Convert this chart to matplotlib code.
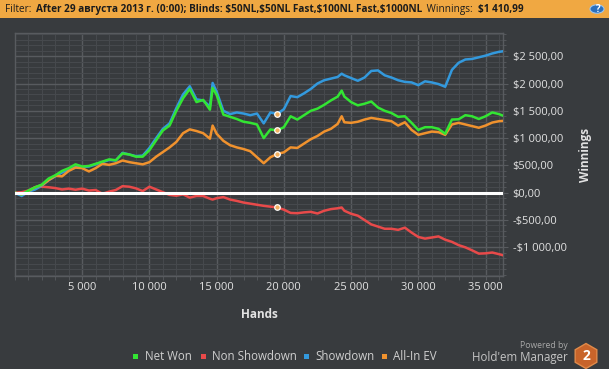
import matplotlib
matplotlib.use("Agg")
import matplotlib.pyplot as plt
from matplotlib.patches import Rectangle, RegularPolygon, Circle
from matplotlib.ticker import FixedLocator, MultipleLocator, FixedFormatter

# ---------------- data ----------------
hands = [0, 500, 1000, 1500, 2000, 2500, 3000, 3500, 4000, 4500,
         5000, 5500, 6000, 6500, 7000, 7500, 8000, 8500, 9000, 9500,
         10000, 10500, 11000, 11500, 12000, 12500, 13000, 13500, 14000, 14500,
         14700, 15000, 15500, 16000, 16500, 17000, 17500, 18000, 18500, 19000,
         19500, 20000, 20500, 21000, 21500, 22000, 22500, 23000, 23500, 24000,
         24300, 24500, 25000, 25500, 26000, 26500, 27000, 27500, 28000, 28500,
         29000, 29500, 30000, 30500, 31000, 31500, 32000, 32500, 33000, 33500,
         34000, 34500, 35000, 35500, 36000, 36300]

net_won = [0, -30, 40, 100, 150, 260, 320, 400, 450, 520,
           480, 490, 530, 570, 610, 595, 720, 700, 660, 660,
           780, 960, 1140, 1230, 1500, 1730, 1900, 1660, 1700, 1520,
           1920, 1790, 1430, 1390, 1350, 1300, 1280, 1250, 1000, 1160,
           1140, 1200, 1400, 1340, 1420, 1500, 1540, 1610, 1690, 1760,
           1870, 1760, 1660, 1600, 1630, 1670, 1560, 1500, 1460, 1390,
           1400, 1280, 1150, 1200, 1200, 1170, 1080, 1340, 1345, 1420,
           1400, 1350, 1400, 1470, 1440, 1411]

non_showdown = [0, 10, 40, 100, 110, 100, 85, 60, 75, 55,
                75, 40, 50, -20, 20, 50, 120, 110, 80, 30,
                110, 60, 10, -40, -55, -30, -90, -60, -60, -110,
                -125, -100, -80, -125, -150, -180, -200, -220, -240, -255,
                -270, -310, -370, -375, -360, -350, -380, -330, -300, -285,
                -270, -330, -385, -420, -500, -580, -620, -660, -660, -680,
                -640, -730, -810, -840, -820, -800, -860, -900, -960, -1000,
                -1055, -1115, -1110, -1095, -1125, -1145]

showdown = [0, -60, 20, 60, 130, 230, 300, 370, 420, 470,
            470, 480, 520, 560, 600, 590, 730, 700, 670, 680,
            820, 1000, 1170, 1270, 1550, 1800, 1950, 1710, 1690, 1580,
            2010, 1850, 1500, 1440, 1470, 1450, 1420, 1450, 1270, 1470,
            1440, 1530, 1770, 1750, 1820, 1900, 2000, 2060, 2090, 2120,
            2180, 2150, 2100, 2050, 2110, 2230, 2240, 2150, 2110, 2060,
            2030, 2020, 1970, 2040, 2020, 1990, 1940, 2250, 2380, 2440,
            2450, 2480, 2510, 2550, 2580, 2590]

all_in_ev = [0, -30, 30, 100, 140, 230, 310, 300, 400, 460,
             450, 390, 450, 530, 510, 540, 590, 560, 540, 520,
             560, 660, 745, 830, 930, 1090, 1160, 1130, 1090, 990,
             1230, 1080, 950, 870, 830, 800, 760, 650, 540, 650,
             710, 740, 830, 820, 900, 980, 1040, 1120, 1170, 1260,
             1400, 1290, 1280, 1300, 1340, 1370, 1350, 1330, 1310, 1230,
             1290, 1150, 1060, 1090, 1120, 1110, 1060, 1250, 1280, 1250,
             1220, 1190, 1230, 1285, 1310, 1315]

series_names = ["Net Won", "Non Showdown", "Showdown", "All-In EV"]
marker_index = 40

x_ticks = [5000, 10000, 15000, 20000, 25000, 30000, 35000]
x_tick_labels = ["5 000", "10 000", "15 000", "20 000", "25 000", "30 000", "35 000"]
y_ticks = [-1000, -500, 0, 500, 1000, 1500, 2000, 2500]
y_tick_labels = ["-$1 000,00", "-$500,00", "$0,00", "$500,00",
                 "$1 000,00", "$1 500,00", "$2 000,00", "$2 500,00"]

filter_value = "After 29 августа 2013 г. (0:00); Blinds: $50NL,$50NL Fast,$100NL Fast,$1000NL"
winnings_value = "$1 410,99"

# ---------------- style ----------------
W, H = 609, 369
BG = "#383b3e"
GRID_MAJ = "#585b5f"
GRID_MIN = "#46494d"
TXT = "#e2e2e2"
colors = {"Net Won": "#33e533", "Non Showdown": "#e84a4a",
          "Showdown": "#3399dd", "All-In EV": "#f0922e"}
FONT = ["Open Sans", "DejaVu Sans"]
plt.rcParams["font.family"] = FONT

fig = plt.figure(figsize=(W / 100, H / 100), dpi=100, facecolor=BG)


def fx(x):
    return x / W


def fy(y):
    return 1 - y / H


L, R, T, B = 15, 503, 33, 276
ax = fig.add_axes([fx(L), fy(B), (R - L) / W, (B - T) / H])
ax.set_facecolor(BG)
ax.set_xlim(0, 36300)
ax.set_ylim(-1525, 2925)

ax.xaxis.set_major_locator(FixedLocator(x_ticks))
ax.xaxis.set_major_formatter(FixedFormatter(x_tick_labels))
ax.xaxis.set_minor_locator(MultipleLocator(1000))
ax.yaxis.set_major_locator(FixedLocator(y_ticks))
ax.yaxis.set_major_formatter(FixedFormatter(y_tick_labels))
ax.yaxis.set_minor_locator(MultipleLocator(100))

ax.yaxis.tick_right()
ax.tick_params(axis="both", which="both", colors=GRID_MAJ, labelcolor=TXT,
               labelsize=8, direction="out")
ax.tick_params(axis="y", which="major", length=3.5, width=0.8, pad=3.5)
ax.tick_params(axis="y", which="minor", length=2.2, width=0.6)
ax.tick_params(axis="x", which="major", length=3, width=0.8, pad=1.5)
ax.tick_params(axis="x", which="minor", length=3, width=0.6)

ax.grid(True, which="minor", color=GRID_MIN, linewidth=0.8)
ax.grid(True, which="major", color=GRID_MAJ, linewidth=1.0)
ax.set_axisbelow(True)
for s in ax.spines.values():
    s.set_color(GRID_MAJ)
    s.set_linewidth(1.0)

series = {"Net Won": net_won, "Non Showdown": non_showdown,
          "Showdown": showdown, "All-In EV": all_in_ev}
order = ["Non Showdown", "Showdown", "All-In EV", "Net Won"]
for name in order:
    ax.plot(hands, series[name], color=colors[name], linewidth=1.8,
            solid_joinstyle="round", zorder=3)

ax.axhline(0, color="white", linewidth=2.2, zorder=4)

for name in order:
    ax.plot([hands[marker_index]], [series[name][marker_index]], "o",
            markersize=4, markerfacecolor="#f2b060", markeredgecolor="white",
            markeredgewidth=0.9, zorder=5)

# axis titles
fig.text(fx(259), fy(314), "Hands", color=TXT, fontsize=8.5,
         fontweight="bold", ha="center", va="center")
fig.text(fx(585), fy(154.5), "Winnings", color=TXT, fontsize=8.5,
         fontweight="bold", ha="center", va="center", rotation=90)

# ---------------- header ----------------
fig.patches.append(Rectangle((0, fy(18)), 1, 18 / H, transform=fig.transFigure,
                             facecolor="#f0a842", edgecolor="none", zorder=0))
renderer = fig.canvas.get_renderer()
pieces = [("Filter: ", "normal"), (filter_value, "bold"), (" Winnings: ", "normal"),
          (winnings_value, "bold")]


def draw_header(size):
    x = 5
    objs = []
    for txt, wt in pieces:
        t = fig.text(fx(x), fy(9.5), txt, fontsize=size, fontweight=wt,
                     color="#1c1c1c", ha="left", va="center", parse_math=False)
        bb = t.get_window_extent(renderer)
        x = bb.x1 + 2
        objs.append(t)
    return objs, x


objs, xend = draw_header(8)
scale = (525 - 5) / (xend - 5)
for o in objs:
    o.remove()
draw_header(8 * scale)

fig.patches.append(Circle((fx(597), fy(9)), 7 / W, transform=fig.transFigure,
                          facecolor="#2a6fbd", edgecolor="#9cc4ec", linewidth=0.8))
fig.text(fx(597), fy(9.2), "?", color="white", fontsize=7, fontweight="bold",
         ha="center", va="center")

# ---------------- legend ----------------
legend_pos = [(133, 145), (201, 212), (304, 315), (382, 393)]
for name, (sx, tx) in zip(series_names, legend_pos):
    fig.patches.append(Rectangle((fx(sx), fy(359)), 5 / W, 5 / H,
                                 transform=fig.transFigure,
                                 facecolor=colors[name], edgecolor="none"))
    fig.text(fx(tx), fy(356.5), name, color="#d0d0d0", fontsize=8.3,
             ha="left", va="center")

fig.text(fx(568), fy(345), "Powered by", color="#a8a8a8", fontsize=6.2,
         ha="right", va="center")
fig.text(fx(568), fy(357), "Hold'em Manager", color="#c4c4c4", fontsize=8.3,
         ha="right", va="center")
fig.patches.append(RegularPolygon((586, H - 356), numVertices=6, radius=12.5,
                                  orientation=0, transform=None,
                                  facecolor="#c8642a", edgecolor="#e08a4a",
                                  linewidth=1.0))
fig.text(fx(586), fy(356.5), "2", color="white", fontsize=10, fontweight="bold",
         ha="center", va="center")

fig.savefig("out.png", dpi=100, facecolor=BG)
